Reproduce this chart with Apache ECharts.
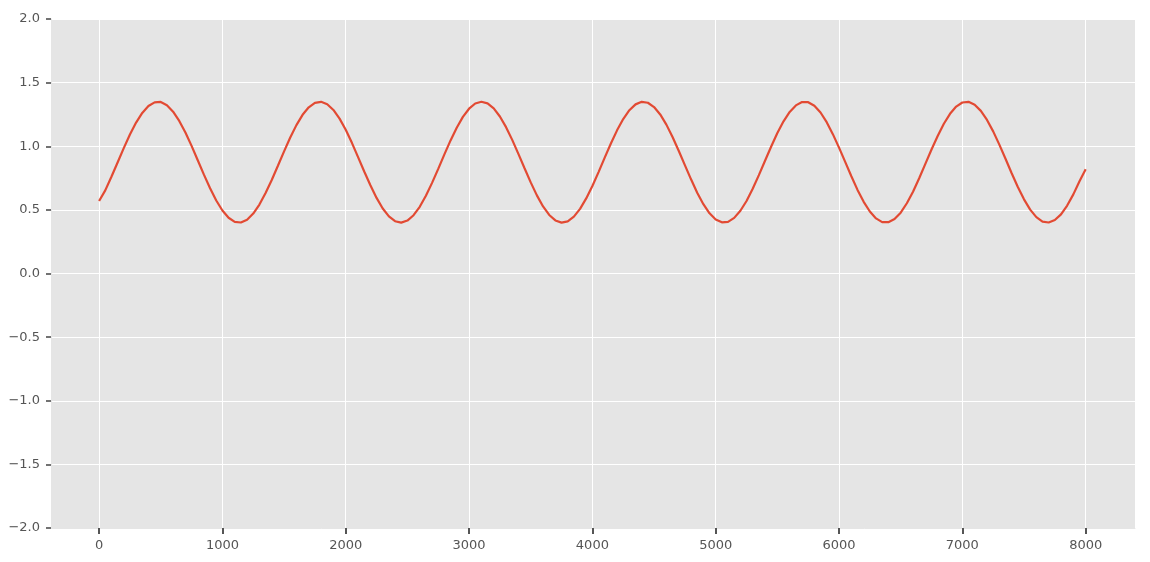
<!DOCTYPE html>
<html>
<head>
<meta charset="utf-8">
<script src="https://cdn.jsdelivr.net/npm/echarts@6/dist/echarts.min.js"></script>
<style>html,body{margin:0;padding:0;background:#fff;}#chart{width:1150px;height:562px;}</style>
</head>
<body>
<div id="chart"></div>
<script>
// x positions (step 50) and values
const xValues = [0,50,100,150,200,250,300,350,400,450,500,550,600,650,700,750,800,850,900,950,
  1000,1050,1100,1150,1200,1250,1300,1350,1400,1450,1500,1550,1600,1650,1700,1750,1800,1850,1900,1950,
  2000,2050,2100,2150,2200,2250,2300,2350,2400,2450,2500,2550,2600,2650,2700,2750,2800,2850,2900,2950,
  3000,3050,3100,3150,3200,3250,3300,3350,3400,3450,3500,3550,3600,3650,3700,3750,3800,3850,3900,3950,
  4000,4050,4100,4150,4200,4250,4300,4350,4400,4450,4500,4550,4600,4650,4700,4750,4800,4850,4900,4950,
  5000,5050,5100,5150,5200,5250,5300,5350,5400,5450,5500,5550,5600,5650,5700,5750,5800,5850,5900,5950,
  6000,6050,6100,6150,6200,6250,6300,6350,6400,6450,6500,6550,6600,6650,6700,6750,6800,6850,6900,6950,
  7000,7050,7100,7150,7200,7250,7300,7350,7400,7450,7500,7550,7600,7650,7700,7750,7800,7850,7900,7950,
  8000];
const yValues = [0.570,0.653,0.760,0.872,0.985,1.092,1.186,1.262,1.316,1.345,1.348,1.323,1.272,1.199,1.108,1.003,0.890,0.777,0.670,0.574,
  0.495,0.438,0.406,0.401,0.423,0.471,0.542,0.632,0.735,0.847,0.960,1.069,1.166,1.247,1.306,1.341,1.349,1.330,1.285,1.217,
  1.129,1.027,0.915,0.802,0.693,0.594,0.511,0.449,0.411,0.400,0.416,0.458,0.524,0.611,0.712,0.822,0.936,1.046,1.146,1.231,
  1.295,1.336,1.350,1.337,1.298,1.234,1.150,1.050,0.940,0.827,0.716,0.614,0.527,0.460,0.417,0.400,0.410,0.447,0.508,0.590,
  0.688,0.797,0.911,1.022,1.125,1.214,1.283,1.329,1.349,1.342,1.308,1.250,1.170,1.073,0.965,0.852,0.740,0.635,0.545,0.473,
  0.425,0.402,0.406,0.437,0.493,0.570,0.666,0.773,0.886,0.998,1.104,1.196,1.270,1.321,1.347,1.346,1.318,1.265,1.189,1.095,
  0.989,0.877,0.764,0.657,0.563,0.487,0.433,0.404,0.403,0.428,0.478,0.552,0.643,0.749,0.861,0.974,1.081,1.177,1.255,1.312,
  1.344,1.349,1.326,1.278,1.207,1.117,1.013,0.902,0.788,0.680,0.583,0.502,0.443,0.408,0.401,0.420,0.465,0.534,0.622,0.725,
  0.820];
const xTicks = [0,1000,2000,3000,4000,5000,6000,7000,8000];

const chart = echarts.init(document.getElementById('chart'));
const fmtY = v => (v < 0 ? '\u2212' : '') + Math.abs(v).toFixed(1);
const font = 'DejaVu Sans';
chart.setOption({
  animation: false,
  grid: {left: 51, right: 15, top: 19, bottom: 34, show: true, backgroundColor: '#E5E5E5', borderWidth: 0},
  xAxis: {
    type: 'value', min: -390, max: 8400,
    axisLine: {show: true, onZero: false, lineStyle: {color: '#E5E5E5', width: 1}},
    axisTick: {show: true, length: 6, lineStyle: {color: '#555555', width: 2}, customValues: xTicks},
    axisLabel: {color: '#555', fontSize: 13, fontFamily: font, margin: 11, customValues: xTicks, formatter: v => String(v)},
    splitLine: {show: true, lineStyle: {color: '#ffffff', width: 1}}
  },
  yAxis: {
    type: 'value', min: -2, max: 2, interval: 0.5,
    axisLine: {show: true, onZero: false, lineStyle: {color: '#E5E5E5', width: 1}},
    axisTick: {show: true, length: 5, lineStyle: {color: '#444444', width: 1.5}},
    axisLabel: {color: '#555', fontSize: 13, fontFamily: font, margin: 11, formatter: fmtY},
    splitLine: {show: true, lineStyle: {color: '#ffffff', width: 1}}
  },
  series: [{
    type: 'line',
    data: xValues.map((x, i) => [x, yValues[i]]),
    smooth: false,
    showSymbol: false,
    lineStyle: {color: '#E24A33', width: 2.2},
    itemStyle: {color: '#E24A33'}
  }]
});
</script>
</body>
</html>
